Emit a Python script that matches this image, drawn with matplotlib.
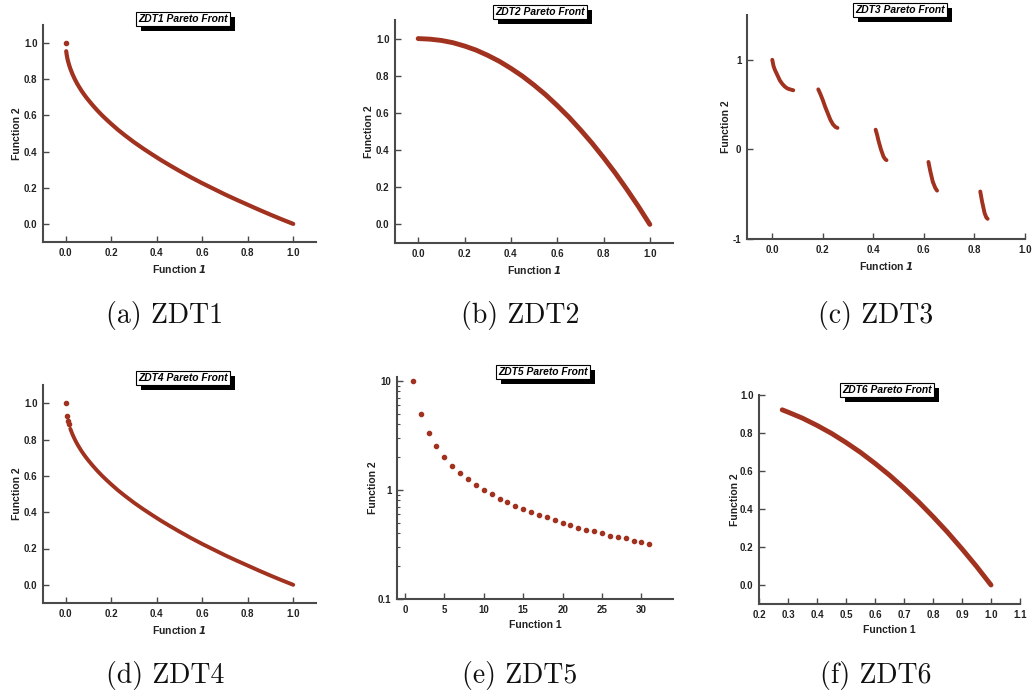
import matplotlib
matplotlib.use("Agg")
import matplotlib.pyplot as plt
import matplotlib.patheffects as pe
from matplotlib.ticker import LogLocator, NullFormatter

# ZDT1 front
zdt1_x = [0.002, 0.004, 0.007, 0.01, 0.015, 0.02, 0.03, 0.04, 0.05, 0.06, 0.07, 0.08, 0.09,
          0.10, 0.12, 0.14, 0.16, 0.18, 0.20, 0.23, 0.26, 0.30, 0.34, 0.38, 0.42, 0.46,
          0.50, 0.55, 0.60, 0.65, 0.70, 0.75, 0.80, 0.85, 0.90, 0.95, 1.0]
zdt1_y = [0.955, 0.937, 0.916, 0.900, 0.878, 0.859, 0.827, 0.800, 0.776, 0.755, 0.735,
          0.717, 0.700, 0.684, 0.654, 0.626, 0.600, 0.576, 0.553, 0.520, 0.490, 0.452,
          0.417, 0.384, 0.352, 0.322, 0.293, 0.258, 0.225, 0.194, 0.163, 0.134, 0.106,
          0.078, 0.051, 0.025, 0.0]
zdt1_start = ([0.0], [1.0])

# ZDT2 front
zdt2_x = [0.0, 0.05, 0.10, 0.15, 0.20, 0.25, 0.30, 0.35, 0.40, 0.45, 0.50,
          0.55, 0.60, 0.65, 0.70, 0.75, 0.80, 0.85, 0.90, 0.95, 1.0]
zdt2_y = [1.0, 0.997, 0.990, 0.978, 0.960, 0.938, 0.910, 0.878, 0.840, 0.798, 0.750,
          0.698, 0.640, 0.578, 0.510, 0.438, 0.360, 0.278, 0.190, 0.098, 0.0]

# ZDT3 front, five disconnected pieces
zdt3_x = [
    [0.0, 0.005, 0.01, 0.02, 0.03, 0.04, 0.05, 0.06, 0.07, 0.083],
    [0.182, 0.19, 0.20, 0.21, 0.22, 0.23, 0.24, 0.25, 0.258],
    [0.409, 0.415, 0.42, 0.43, 0.44, 0.447, 0.452],
    [0.618, 0.625, 0.635, 0.645, 0.652],
    [0.823, 0.83, 0.84, 0.847, 0.852],
]
zdt3_y = [
    [1.0, 0.93, 0.89, 0.83, 0.77, 0.73, 0.70, 0.68, 0.67, 0.66],
    [0.67, 0.62, 0.55, 0.47, 0.40, 0.33, 0.28, 0.25, 0.24],
    [0.22, 0.16, 0.10, 0.0, -0.08, -0.11, -0.12],
    [-0.14, -0.24, -0.36, -0.43, -0.46],
    [-0.47, -0.58, -0.71, -0.76, -0.775],
]

# ZDT4 front
zdt4_x = [0.02, 0.03, 0.04, 0.05, 0.06, 0.07, 0.08, 0.09, 0.10, 0.12, 0.14, 0.16, 0.18,
          0.20, 0.23, 0.26, 0.30, 0.34, 0.38, 0.42, 0.46, 0.50, 0.55, 0.60, 0.65, 0.70,
          0.75, 0.80, 0.85, 0.90, 0.95, 1.0]
zdt4_y = [0.859, 0.827, 0.800, 0.776, 0.755, 0.735, 0.717, 0.700, 0.684, 0.654, 0.626,
          0.600, 0.576, 0.553, 0.520, 0.490, 0.452, 0.417, 0.384, 0.352, 0.322, 0.293,
          0.258, 0.225, 0.194, 0.163, 0.134, 0.106, 0.078, 0.051, 0.025, 0.0]
zdt4_start = ([0.0, 0.005, 0.009, 0.013], [1.0, 0.93, 0.90, 0.885])

# ZDT5 front
zdt5_x = list(range(1, 32))
zdt5_y = [10.0, 5.0, 3.33, 2.5, 2.0, 1.67, 1.43, 1.25, 1.11, 1.0, 0.91, 0.83, 0.77, 0.71,
          0.67, 0.63, 0.59, 0.56, 0.53, 0.5, 0.48, 0.45, 0.43, 0.42, 0.4, 0.38, 0.37,
          0.36, 0.34, 0.33, 0.32]

# ZDT6 front
zdt6_x = [0.28, 0.30, 0.35, 0.40, 0.45, 0.50, 0.55, 0.60, 0.65, 0.70, 0.75, 0.80, 0.85, 0.90, 0.95, 1.0]
zdt6_y = [0.922, 0.910, 0.878, 0.840, 0.798, 0.750, 0.698, 0.640, 0.578, 0.510, 0.438, 0.360,
          0.278, 0.190, 0.098, 0.0]

captions = ["(a) ZDT1", "(b) ZDT2", "(c) ZDT3", "(d) ZDT4", "(e) ZDT5", "(f) ZDT6"]
titles = ["ZDT1 Pareto Front", "ZDT2 Pareto Front", "ZDT3 Pareto Front",
          "ZDT4 Pareto Front", "ZDT5 Pareto Front", "ZDT6 Pareto Front"]

W, H = 1032, 695
RED = "#a0321f"
INK = "#222222"
SPINE = "#4a4a4a"

plt.rcParams["font.family"] = ["Liberation Sans", "DejaVu Sans"]
plt.rcParams["axes.unicode_minus"] = False
fig = plt.figure(figsize=(W / 100, H / 100), dpi=100)


def make_axes(left, right, top, bottom):
    return fig.add_axes([left / W, (H - bottom) / H, (right - left) / W, (bottom - top) / H])


def style(ax, xlabel_italic_one=True, ypad=3):
    for s in ("top", "right"):
        ax.spines[s].set_visible(False)
    for s in ("left", "bottom"):
        ax.spines[s].set_color(SPINE)
        ax.spines[s].set_linewidth(1.5)
    ax.tick_params(direction="in", length=4, width=1, color=SPINE,
                   labelsize=7, labelcolor=INK, pad=4)
    for lab in ax.get_xticklabels() + ax.get_yticklabels():
        lab.set_fontweight("bold")
    if xlabel_italic_one:
        ax.set_xlabel(r"Function $\mathbfit{1}$", fontsize=7.5, fontweight="bold", color=INK, labelpad=4)
    else:
        ax.set_xlabel("Function 1", fontsize=7.5, fontweight="bold", color=INK, labelpad=4)
    ax.set_ylabel("Function 2", fontsize=7.5, fontweight="bold", color=INK, labelpad=ypad)


def boxed_title(x, y, text):
    t = fig.text(x / W, 1 - y / H, text, ha="center", va="center", fontsize=7.4,
                 fontweight="bold", fontstyle="italic", color="black",
                 bbox=dict(boxstyle="square,pad=0.22", fc="white", ec="black", lw=0.8))
    t.get_bbox_patch().set_path_effects(
        [pe.SimplePatchShadow(offset=(3.5, -3.5), shadow_rgbFace="black", alpha=1.0), pe.Normal()])


def caption(x, y, text):
    fig.text(x / W, 1 - y / H, text, ha="center", va="center", fontsize=20,
             family="cmr10", color="#111111")


unit_ticks = [0.0, 0.2, 0.4, 0.6, 0.8, 1.0]

# (a) ZDT1
ax = make_axes(43, 316, 25, 242)
ax.plot(zdt1_x, zdt1_y, color=RED, lw=3, solid_capstyle="round", solid_joinstyle="round")
ax.plot(*zdt1_start, "o", color=RED, ms=3)
ax.set_xlim(-0.1, 1.1); ax.set_ylim(-0.1, 1.1)
ax.set_xticks(unit_ticks); ax.set_yticks(unit_ticks)
style(ax, ypad=1)

# (b) ZDT2
ax = make_axes(395, 673, 20, 243)
ax.plot(zdt2_x, zdt2_y, color=RED, lw=3.5, solid_capstyle="round", solid_joinstyle="round")
ax.set_xlim(-0.1, 1.1); ax.set_ylim(-0.1, 1.1)
ax.set_xticks(unit_ticks); ax.set_yticks(unit_ticks)
style(ax, ypad=1)

# (c) ZDT3
ax = make_axes(747, 1025, 15, 239)
for xs, ys in zip(zdt3_x, zdt3_y):
    ax.plot(xs, ys, color=RED, lw=2.8, solid_capstyle="round", solid_joinstyle="round")
ax.set_xlim(-0.1, 1.0); ax.set_ylim(-1, 1.5)
ax.set_xticks(unit_ticks); ax.set_yticks([-1, 0, 1])
style(ax, ypad=1)

# (d) ZDT4
ax = make_axes(43, 316, 385, 603)
ax.plot(zdt4_x, zdt4_y, color=RED, lw=2.8, solid_capstyle="round", solid_joinstyle="round")
ax.plot(*zdt4_start, "o", color=RED, ms=3)
ax.set_xlim(-0.1, 1.1); ax.set_ylim(-0.1, 1.1)
ax.set_xticks(unit_ticks); ax.set_yticks(unit_ticks)
style(ax, ypad=1)

# (e) ZDT5
ax = make_axes(397, 673, 377, 599)
ax.plot(zdt5_x, zdt5_y, "o", color=RED, ms=3)
ax.set_yscale("log")
ax.set_xlim(-1, 34); ax.set_ylim(0.1, 10.8)
ax.set_xticks([0, 5, 10, 15, 20, 25, 30])
ax.set_yticks([0.1, 1, 10]); ax.set_yticklabels(["0.1", "1", "10"])
ax.yaxis.set_minor_locator(LogLocator(base=10, subs=range(2, 10)))
ax.yaxis.set_minor_formatter(NullFormatter())
style(ax, xlabel_italic_one=False, ypad=0)
ax.tick_params(which="minor", direction="in", length=2.5, width=0.8, color=SPINE)

# (f) ZDT6
ax = make_axes(759, 1020, 395, 604)
ax.plot(zdt6_x, zdt6_y, color=RED, lw=3.5, solid_capstyle="round", solid_joinstyle="round")
ax.set_xlim(0.2, 1.1); ax.set_ylim(-0.1, 1.0)
ax.set_xticks([0.2, 0.3, 0.4, 0.5, 0.6, 0.7, 0.8, 0.9, 1.0, 1.1])
ax.set_yticks(unit_ticks)
style(ax, xlabel_italic_one=False, ypad=0)

title_pos = [(183, 19), (540, 12), (900, 10), (183, 378), (543, 372), (887, 390)]
for (tx, ty), t in zip(title_pos, titles):
    boxed_title(tx, ty, t)

cap_pos = [(165, 316), (520, 316), (876, 316), (165, 676), (520, 676), (876, 676)]
for (cx, cy), c in zip(cap_pos, captions):
    caption(cx, cy, c)

fig.savefig("out.png", dpi=100)
